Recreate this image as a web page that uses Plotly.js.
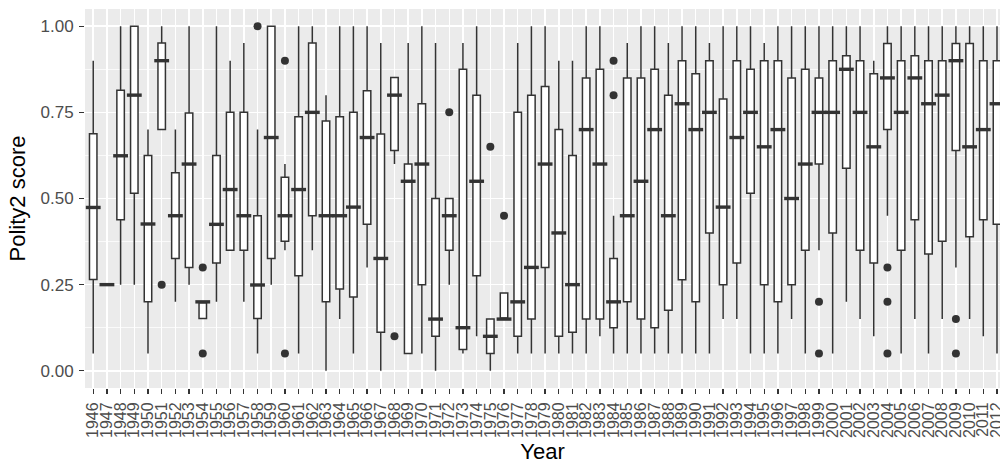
<!DOCTYPE html>
<html>
<head>
<meta charset="utf-8">
<script src="https://cdn.plot.ly/plotly-3.0.1.min.js"></script>
<style>html,body{margin:0;padding:0;background:#fff;}#chart{width:1000px;height:468px;}</style>
</head>
<body>
<div id="chart"></div>
<script>
const years = ["1946","1947","1948","1949","1950","1951","1952","1953","1954","1955","1956","1957","1958","1959","1960","1961","1962","1963","1964","1965","1966","1967","1968","1969","1970","1971","1972","1973","1974","1975","1976","1977","1978","1979","1980","1981","1982","1983","1984","1985","1986","1987","1988","1989","1990","1991","1992","1993","1994","1995","1996","1997","1998","1999","2000","2001","2002","2003","2004","2005","2006","2007","2008","2009","2010","2011","2012"];

const lowerWhisker = [0.05,0.25,0.25,0.25,0.05,0.70,0.20,0.25,0.15,0.20,0.35,0.20,0.05,0.25,0.35,0.05,0.35,0.00,0.15,0.05,0.30,0.00,0.60,0.05,0.05,0.00,0.25,0.05,0.10,0.00,0.15,0.05,0.05,0.05,0.05,0.05,0.05,0.10,0.05,0.05,0.05,0.05,0.05,0.05,0.05,0.05,0.15,0.15,0.05,0.05,0.05,0.15,0.05,0.35,0.05,0.20,0.15,0.10,0.45,0.05,0.15,0.05,0.15,0.30,0.15,0.10,0.05];
const q1 = [0.265,0.25,0.438,0.515,0.20,0.70,0.326,0.30,0.152,0.313,0.35,0.35,0.152,0.326,0.376,0.276,0.45,0.20,0.237,0.214,0.425,0.112,0.639,0.05,0.25,0.10,0.35,0.062,0.276,0.05,0.15,0.10,0.15,0.30,0.10,0.112,0.15,0.15,0.125,0.20,0.15,0.125,0.176,0.264,0.20,0.40,0.25,0.313,0.515,0.25,0.20,0.25,0.35,0.60,0.40,0.588,0.35,0.313,0.70,0.35,0.438,0.339,0.376,0.639,0.389,0.438,0.425];
const medians = [0.474,0.25,0.624,0.80,0.426,0.90,0.45,0.60,0.20,0.425,0.526,0.45,0.249,0.677,0.45,0.526,0.75,0.45,0.45,0.475,0.677,0.326,0.80,0.55,0.60,0.15,0.45,0.125,0.55,0.10,0.15,0.20,0.30,0.60,0.40,0.25,0.70,0.60,0.20,0.45,0.55,0.70,0.45,0.775,0.70,0.75,0.475,0.677,0.75,0.65,0.70,0.50,0.60,0.75,0.75,0.875,0.75,0.65,0.85,0.75,0.85,0.775,0.80,0.90,0.65,0.70,0.775];
const q3 = [0.688,0.25,0.814,1.00,0.625,0.951,0.575,0.748,0.20,0.625,0.75,0.75,0.45,1.00,0.562,0.737,0.951,0.725,0.737,0.75,0.813,0.687,0.851,0.60,0.775,0.50,0.50,0.875,0.80,0.15,0.226,0.75,0.80,0.825,0.70,0.625,0.85,0.875,0.326,0.85,0.85,0.875,0.80,0.90,0.862,0.90,0.789,0.90,0.875,0.90,0.90,0.85,0.875,0.85,0.90,0.914,0.90,0.862,0.95,0.90,0.914,0.90,0.90,0.95,0.95,0.90,0.90];
const upperWhisker = [0.90,0.25,1.00,1.00,0.70,1.00,0.70,1.00,0.20,1.00,0.90,0.951,0.70,1.00,0.60,1.00,1.00,0.80,1.00,1.00,1.00,0.951,0.851,0.951,1.00,0.951,0.50,0.951,1.00,0.15,0.226,0.951,1.00,1.00,0.90,0.90,1.00,1.00,0.45,0.951,1.00,1.00,0.951,1.00,1.00,0.951,1.00,1.00,1.00,0.951,1.00,1.00,1.00,1.00,1.00,1.00,1.00,0.90,1.00,1.00,1.00,1.00,1.00,1.00,1.00,1.00,1.00];

const outlierYears = ["1951","1954","1954","1958","1960","1960","1968","1972","1975","1976","1984","1984","1999","1999","2004","2004","2004","2009","2009"];
const outlierValues = [0.25,0.30,0.05,1.00,0.90,0.05,0.10,0.75,0.65,0.45,0.90,0.80,0.20,0.05,0.30,0.20,0.05,0.15,0.05];

const yTickVals = [0, 0.25, 0.5, 0.75, 1];
const yTickText = ["0.00","0.25","0.50","0.75","1.00"];

const ink = '#333333';
const font = 'Liberation Sans, Arial, sans-serif';

const traces = [
  {
    type: 'box',
    x: years,
    q1: q1, median: medians, q3: q3,
    lowerfence: lowerWhisker, upperfence: upperWhisker,
    boxpoints: false,
    fillcolor: '#FFFFFF',
    line: {color: ink, width: 1.5},
    whiskerwidth: 0,
    hoverinfo: 'skip',
    showlegend: false
  },
  {
    type: 'scatter', mode: 'markers',
    x: years, y: medians,
    marker: {symbol: 'line-ew', size: 10.6, color: ink, line: {color: ink, width: 3.4}},
    hoverinfo: 'skip', showlegend: false, cliponaxis: false
  },
  {
    type: 'scatter', mode: 'markers',
    x: outlierYears, y: outlierValues,
    marker: {symbol: 'circle', size: 8, color: ink, line: {width: 0}},
    hoverinfo: 'skip', showlegend: false, cliponaxis: false
  }
];

const layout = {
  width: 1000, height: 468,
  margin: {l: 85, r: 0, t: 9, b: 80, pad: 0},
  paper_bgcolor: '#FFFFFF',
  plot_bgcolor: '#EBEBEB',
  boxgap: 0.22,
  showlegend: false,
  font: {family: font, color: '#4D4D4D'},
  xaxis: {
    type: 'category',
    categoryorder: 'array', categoryarray: years,
    range: [-0.6, 66.22],
    tickmode: 'array', tickvals: years, ticktext: years,
    showgrid: true, gridcolor: '#FFFFFF', gridwidth: 1.5,
    zeroline: false, showline: false,
    ticks: 'outside', ticklen: 5, tickwidth: 1.3, tickcolor: ink,
    tickangle: -90,
    tickfont: {family: font, size: 16, color: '#4D4D4D'},
    ticklabelstandoff: 2,
    title: {text: 'Year', font: {family: font, size: 22, color: '#000000'}, standoff: 6},
    automargin: false
  },
  yaxis: {
    range: [-0.05, 1.05],
    tickvals: yTickVals, ticktext: yTickText,
    showgrid: true, gridcolor: '#FFFFFF', gridwidth: 1.5,
    minor: {tickvals: [0.125, 0.375, 0.625, 0.875], showgrid: true, gridcolor: '#FFFFFF', gridwidth: 0.75, ticks: ''},
    zeroline: false, showline: false,
    ticks: 'outside', ticklen: 5, tickwidth: 1.3, tickcolor: ink,
    tickfont: {family: font, size: 17, color: '#4D4D4D'},
    ticklabelstandoff: 2,
    title: {text: 'Polity2 score', font: {family: font, size: 22, color: '#000000'}, standoff: 8},
    automargin: false
  }
};

Plotly.newPlot('chart', traces, layout, {staticPlot: true, displayModeBar: false});
</script>
</body>
</html>
